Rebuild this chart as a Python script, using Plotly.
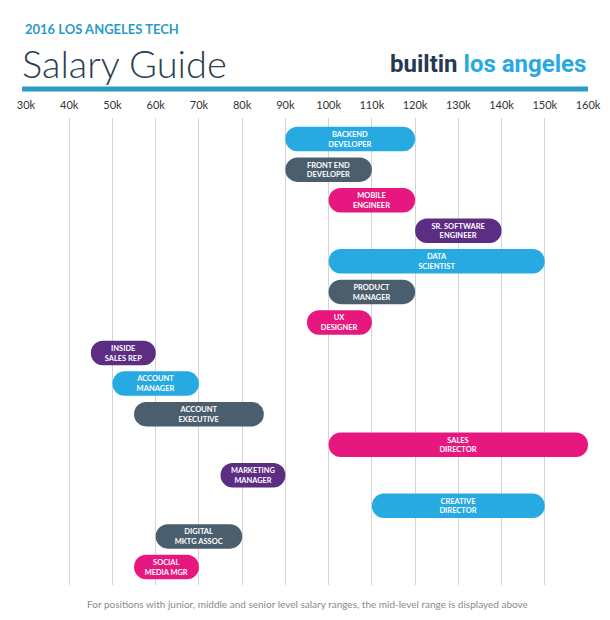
import plotly.graph_objects as go

roles = ["BACKEND<br>DEVELOPER", "FRONT END<br>DEVELOPER", "MOBILE<br>ENGINEER", "SR. SOFTWARE<br>ENGINEER",
         "DATA<br>SCIENTIST", "PRODUCT<br>MANAGER", "UX<br>DESIGNER", "INSIDE<br>SALES REP",
         "ACCOUNT<br>MANAGER", "ACCOUNT<br>EXECUTIVE", "SALES<br>DIRECTOR", "MARKETING<br>MANAGER",
         "CREATIVE<br>DIRECTOR", "DIGITAL<br>MKTG ASSOC", "SOCIAL<br>MEDIA MGR"]
low = [90, 90, 100, 120, 100, 100, 95, 45, 50, 55, 100, 75, 110, 60, 55]
high = [120, 110, 120, 140, 150, 120, 110, 60, 70, 85, 160, 90, 150, 80, 70]
group = ["blue", "slate", "pink", "purple", "blue", "slate", "pink", "purple",
         "blue", "slate", "pink", "purple", "blue", "slate", "pink"]
tick_vals = list(range(30, 161, 10))
tick_text = [f"{v}k" for v in tick_vals]

palette = {"blue": "#27a9e1", "slate": "#4b5e6e", "pink": "#e6187f", "purple": "#5c2d83"}

fig = go.Figure(go.Bar(
    y=list(range(len(roles))),
    x=[h - l for l, h in zip(low, high)],
    base=low,
    orientation="h",
    width=0.8,
    marker=dict(color=[palette[g] for g in group], cornerradius="50%", line_width=0),
    text=["<b>" + r + "</b>" for r in roles],
    textposition="inside",
    insidetextanchor="middle",
    textangle=0,
    textfont=dict(color="white", size=9.5, family="Lato"),
    hoverinfo="skip",
))

fig.update_layout(
    width=610, height=620,
    margin=dict(l=18, r=30, t=110, b=43),
    plot_bgcolor="white", paper_bgcolor="white",
    showlegend=False,
    xaxis=dict(range=[30, 160], side="top", tickvals=tick_vals, ticktext=tick_text, automargin=False,
               showgrid=True, gridcolor="#d4d4d4", gridwidth=1, zeroline=False,
               tickfont=dict(size=11, color="#333", family="Lato"), ticks="", ticklabelstandoff=6),
    yaxis=dict(range=[14.59, -0.69], showticklabels=False, showgrid=False, zeroline=False, automargin=False),
    shapes=[dict(type="line", xref="paper", yref="paper", x0=-0.007, x1=1, y0=1.062, y1=1.062,
                 line=dict(color="#2b9cc6", width=5))],
    annotations=[
        dict(text="<b>2016 LOS ANGELES TECH</b>", xref="paper", yref="paper", x=-0.005, y=1.19,
             xanchor="left", yanchor="middle", showarrow=False,
             font=dict(size=13, color="#2b9cc6", family="Lato")),
        dict(text="Salary Guide", xref="paper", yref="paper", x=-0.01, y=1.118,
             xanchor="left", yanchor="middle", showarrow=False,
             font=dict(size=38, color="#2c3e50", family="Lato Light, Lato")),
        dict(text="<b><span style='color:#253a52'>builtin</span> <span style='color:#27a9e1'>los angeles</span></b>",
             xref="paper", yref="paper", x=1, y=1.116, xanchor="right", yanchor="middle", showarrow=False,
             font=dict(size=24, family="Roboto")),
        dict(text="For positions with junior, middle and senior level salary ranges, the mid-level range is displayed above",
             xref="paper", yref="paper", x=0.5, y=-0.041, xanchor="center", yanchor="middle", showarrow=False,
             font=dict(size=10, color="#8a8a8a", family="Lato")),
    ],
)

fig.write_html("out.html")
